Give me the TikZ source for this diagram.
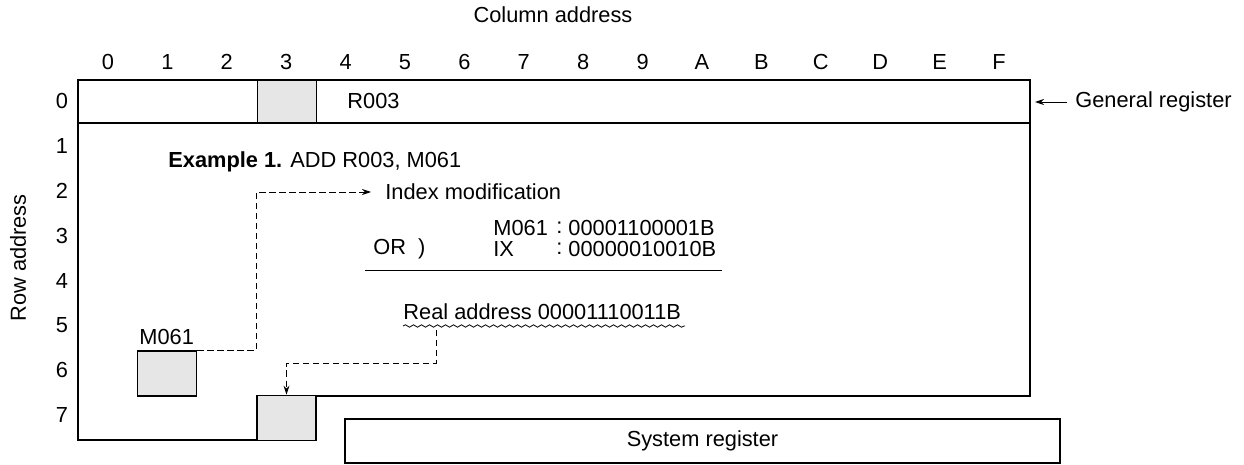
\documentclass[tikz,border=0pt]{standalone}
\usepackage{fontspec}
\setmainfont{Liberation Sans}
\usetikzlibrary{arrows.meta,decorations.pathmorphing}
\definecolor{cellgray}{HTML}{E6E6E6}
\tikzset{
	lbl/.style={font=\fontsize{10.9}{12}\selectfont, inner sep=0pt},
	cellbox/.style={draw, line width=0.9pt, fill=cellgray, inner sep=0pt, minimum width=29.5pt, minimum height=22.5pt},
	link/.style={dashed, dash pattern=on 3.2pt off 1.8pt, line width=0.45pt, -{Stealth[length=4.5pt,width=3pt]}}
}
\begin{document}
\begin{tikzpicture}[x=0.5pt, y=-0.5pt]
	  \useasboundingbox (0,0) rectangle (1244,465);
	  \node[lbl] (coltitle) at (553,15) {Column address};
	  \node[lbl, rotate=90] (rowtitle) at (18,258) {Row address};
	  \foreach \c [count=\i from 0] in {0,1,2,3,4,5,6,7,8,9,A,B,C,D,E,F}
	    \node[lbl] (col\c) at (108+59.4*\i,62) {\c};
	  \foreach \r in {0,...,7}
	    \node[lbl] (row\r) at (62,101+44.9*\r) {\r};

	  % general register area
	  \draw[line width=0.45pt, fill=cellgray] (257,80) rectangle (316,123);
	  \draw[line width=0.9pt] (78,80) -- (1030,80) -- (1030,396) -- (316,396) -- (316,440) -- (78,440) -- cycle;
	  \draw[line width=0.9pt] (78,123) -- (1030,123);
	  \node[lbl, anchor=west] (rthree) at (347,101) {R003};
	  \node[lbl, anchor=west] (genreg) at (1075,102) {General register};
	  \coordinate (gentip) at (1035,102);
	  \draw[-{Stealth[length=4.5pt,width=3pt]}, line width=0.45pt] (genreg.west) ++(-8,0) -- (gentip);

	  % cells
	  \node[cellbox] (mbox) at (167,373.5) {};
	  \node[lbl, anchor=west] (mlabel) at (139,337) {M061};
	  \node[cellbox] (cell) at (286.5,418) {};

	  % system register
	  \node[draw, line width=0.9pt, inner sep=0pt, minimum width=357.5pt, minimum height=22pt] (sysreg) at (702.5,441) {};
	  \node[lbl] (systext) at (sysreg) {System register};

	  % example text
	  \node[lbl, anchor=west] (example) at (168,162) {\textbf{Example 1.} ADD R003, M061};
	  \node[lbl, anchor=west] (idx) at (385,192) {Index modification};
	  \node[lbl, anchor=west] (mname) at (493,228) {M061};
	  \node[lbl, anchor=west] (mcolon) at (556,228) {:};
	  \node[lbl, anchor=west] (mval) at (568,228) {00001100001B};
	  \node[lbl, anchor=west] (orsign) at (373,249) {OR\ \ )};
	  \node[lbl, anchor=west] (ixname) at (493,249) {IX};
	  \node[lbl, anchor=west] (ixcolon) at (556,249) {:};
	  \node[lbl, anchor=west] (ixval) at (568,249) {00000010010B};
	  \draw[line width=0.45pt] (365,270) -- (722,270);
	  \node[lbl, anchor=west] (real) at (403,312) {Real address 00001110011B};
	  \draw[line width=0.4pt, decorate, decoration={snake, segment length=4pt, amplitude=0.6pt}] (403,326) -- (685,326);
	  \coordinate (wave) at (436,330);

	  % connectors
	  \draw[link, shorten >=7pt] (mbox.north east) -- ++(59,0) |- (idx.west);
	  \draw[link] (wave) -- (436,363) -| (cell.north);
\end{tikzpicture}
\end{document}
